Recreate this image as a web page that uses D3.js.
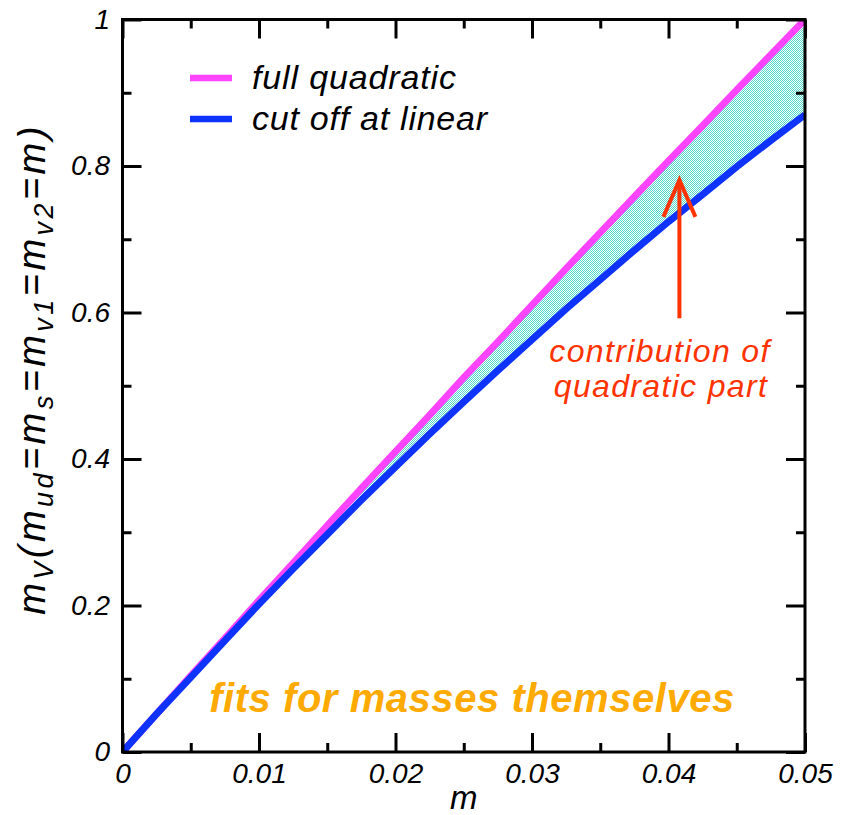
<!DOCTYPE html>
<html><head><meta charset="utf-8">
<script src="https://cdn.jsdelivr.net/npm/d3@7"></script>
<style>
html,body{margin:0;padding:0;background:#fff;}
text{font-family:"Liberation Sans",Arial,Helvetica,sans-serif;font-style:italic;}
</style></head>
<body>
<svg id="chart" width="854" height="815"></svg>
<script>
// ---- data ----
const mValues = [0,0.0025,0.005,0.0075,0.01,0.0125,0.015,0.0175,0.02,0.0225,0.025,0.0275,0.03,0.0325,0.035,0.0375,0.04,0.0425,0.045,0.0475,0.05];
const fullQuadratic = [0,0.052,0.104,0.155,0.207,0.258,0.309,0.360,0.410,0.460,0.511,0.560,0.610,0.660,0.709,0.758,0.807,0.855,0.904,0.952,1.000];
const cutOffLinear = [0,0.052,0.102,0.152,0.202,0.250,0.297,0.344,0.389,0.434,0.478,0.521,0.563,0.605,0.645,0.685,0.724,0.761,0.799,0.835,0.870];
const xTickValues = [0,0.01,0.02,0.03,0.04,0.05];
const xTickLabels = ["0","0.01","0.02","0.03","0.04","0.05"];
const xMinorTicks = [0.005,0.015,0.025,0.035,0.045];
const yTickValues = [0,0.2,0.4,0.6,0.8,1];
const yTickLabels = ["0","0.2","0.4","0.6","0.8","1"];
const yMinorTicks = [0.1,0.3,0.5,0.7,0.9];
const seriesNames = ["full quadratic","cut off at linear"];
const seriesColors = ["#ff44ff","#0f33ff"];
const arrowFrom = [0.0408,0.592], arrowTo = [0.0408,0.781];

// ---- layout ----
const L=122.5, R=805, T=19.5, B=752;
const svg=d3.select("#chart");
const x=d3.scaleLinear().domain([0,0.05]).range([L,R]);
const y=d3.scaleLinear().domain([0,1]).range([B,T]);

function fitWidth(sel,target){
  const n=sel.node();
  const len=n.getComputedTextLength();
  const chars=n.textContent.length;
  if(chars>1) sel.attr("letter-spacing",((target-len)/(chars-1)).toFixed(2));
}

const defs=svg.append("defs");
const pat=defs.append("pattern").attr("id","dots").attr("patternUnits","userSpaceOnUse").attr("width",2).attr("height",2);
pat.append("rect").attr("width",2).attr("height",2).attr("fill","#ffffff");
pat.append("rect").attr("x",0).attr("y",0).attr("width",1).attr("height",1).attr("fill","#52dacf");
pat.append("rect").attr("x",1).attr("y",1).attr("width",1).attr("height",1).attr("fill","#52dacf");
defs.append("clipPath").attr("id","clip").append("rect").attr("x",L).attr("y",T).attr("width",R-L).attr("height",B-T);

const data=mValues.map((m,i)=>({m,q:fullQuadratic[i],l:cutOffLinear[i]}));
const g=svg.append("g").attr("clip-path","url(#clip)");
g.append("path").datum(data)
 .attr("d",d3.area().x(d=>x(d.m)).y0(d=>y(d.l)).y1(d=>y(d.q)))
 .attr("fill","url(#dots)");
g.append("path").datum(data)
 .attr("d",d3.line().x(d=>x(d.m)).y(d=>y(d.q)))
 .attr("fill","none").attr("stroke",seriesColors[0]).attr("stroke-width",7);
g.append("path").datum(data)
 .attr("d",d3.line().x(d=>x(d.m)).y(d=>y(d.l)))
 .attr("fill","none").attr("stroke",seriesColors[1]).attr("stroke-width",7);

// ---- axes ----
function styleAxis(sel){
  sel.select(".domain").remove();
  sel.selectAll(".tick line").attr("stroke","#000").attr("stroke-width",3);
  sel.selectAll(".tick text").attr("fill","#000").attr("font-size",28)
   .attr("font-family","Liberation Sans, Arial, sans-serif").attr("font-style","italic");
}
const fmtX=(d,i)=>xTickLabels[i], fmtY=(d,i)=>yTickLabels[i];
svg.append("g").attr("transform",`translate(0,${B})`)
 .call(d3.axisBottom(x).tickValues(xTickValues).tickFormat(fmtX).tickSize(-19).tickPadding(11)).call(styleAxis);
svg.append("g").attr("transform",`translate(0,${B})`)
 .call(d3.axisBottom(x).tickValues(xMinorTicks).tickFormat("").tickSize(-9)).call(styleAxis);
svg.append("g").attr("transform",`translate(0,${T})`)
 .call(d3.axisTop(x).tickValues(xTickValues).tickFormat("").tickSize(-19)).call(styleAxis);
svg.append("g").attr("transform",`translate(0,${T})`)
 .call(d3.axisTop(x).tickValues(xMinorTicks).tickFormat("").tickSize(-9)).call(styleAxis);
svg.append("g").attr("transform",`translate(${L},0)`)
 .call(d3.axisLeft(y).tickValues(yTickValues).tickFormat(fmtY).tickSize(-19).tickPadding(12.5)).call(styleAxis);
svg.append("g").attr("transform",`translate(${L},0)`)
 .call(d3.axisLeft(y).tickValues(yMinorTicks).tickFormat("").tickSize(-9)).call(styleAxis);
svg.append("g").attr("transform",`translate(${R},0)`)
 .call(d3.axisRight(y).tickValues(yTickValues).tickFormat("").tickSize(-19)).call(styleAxis);
svg.append("g").attr("transform",`translate(${R},0)`)
 .call(d3.axisRight(y).tickValues(yMinorTicks).tickFormat("").tickSize(-9)).call(styleAxis);
svg.append("rect").attr("x",L).attr("y",T).attr("width",R-L).attr("height",B-T)
 .attr("fill","none").attr("stroke","#000").attr("stroke-width",3);

// ---- axis titles ----
svg.append("text").attr("x",(L+R)/2).attr("y",809).attr("text-anchor","middle").attr("font-size",33).text("m");
const yl=svg.append("text").attr("transform","translate(45,369) rotate(-90)").attr("text-anchor","middle").attr("font-size",38);
const parts=[["m",0],["V",1],["(m",0],["ud",1],["=m",0],["s",1],["=m",0],["v1",1],["=m",0],["v2",1],["=m)",0]];
let prevSub=0;
parts.forEach(([t,s])=>{
  const ts=yl.append("tspan").text(t).attr("font-size",s?27:38);
  const dy=s&&!prevSub?8:(!s&&prevSub?-8:0);
  if(dy) ts.attr("dy",dy);
  prevSub=s;
});
fitWidth(yl,488);

// ---- legend ----
const leg=svg.append("g");
const legTargets=[204,235];
[78,119].forEach((yy,i)=>{
  leg.append("line").attr("x1",190).attr("x2",232).attr("y1",yy).attr("y2",yy).attr("stroke",seriesColors[i]).attr("stroke-width",6.5);
  const t=leg.append("text").attr("x",252).attr("y",yy+11).attr("font-size",34).attr("fill","#000").text(seriesNames[i]);
  fitWidth(t,legTargets[i]);
});

// ---- annotations ----
const red="#ff3300";
svg.append("line").attr("x1",x(arrowFrom[0])).attr("y1",y(arrowFrom[1])).attr("x2",x(arrowTo[0])).attr("y2",y(arrowTo[1]))
 .attr("stroke",red).attr("stroke-width",4);
svg.append("path").attr("d",`M${x(arrowTo[0])-16},${y(arrowTo[1])+37} L${x(arrowTo[0])},${y(arrowTo[1])} L${x(arrowTo[0])+16},${y(arrowTo[1])+37}`)
 .attr("fill","none").attr("stroke",red).attr("stroke-width",4);
const a1=svg.append("text").attr("x",660).attr("y",362).attr("text-anchor","middle").attr("font-size",32).attr("fill",red).text("contribution of");
fitWidth(a1,220);
const a2=svg.append("text").attr("x",661).attr("y",397).attr("text-anchor","middle").attr("font-size",32).attr("fill",red).text("quadratic part");
fitWidth(a2,213);
const f=svg.append("text").attr("x",472).attr("y",712).attr("text-anchor","middle").attr("font-size",40).attr("font-weight","bold").attr("fill","#ffaa00").text("fits for masses themselves");
fitWidth(f,525);
</script>
</body></html>
